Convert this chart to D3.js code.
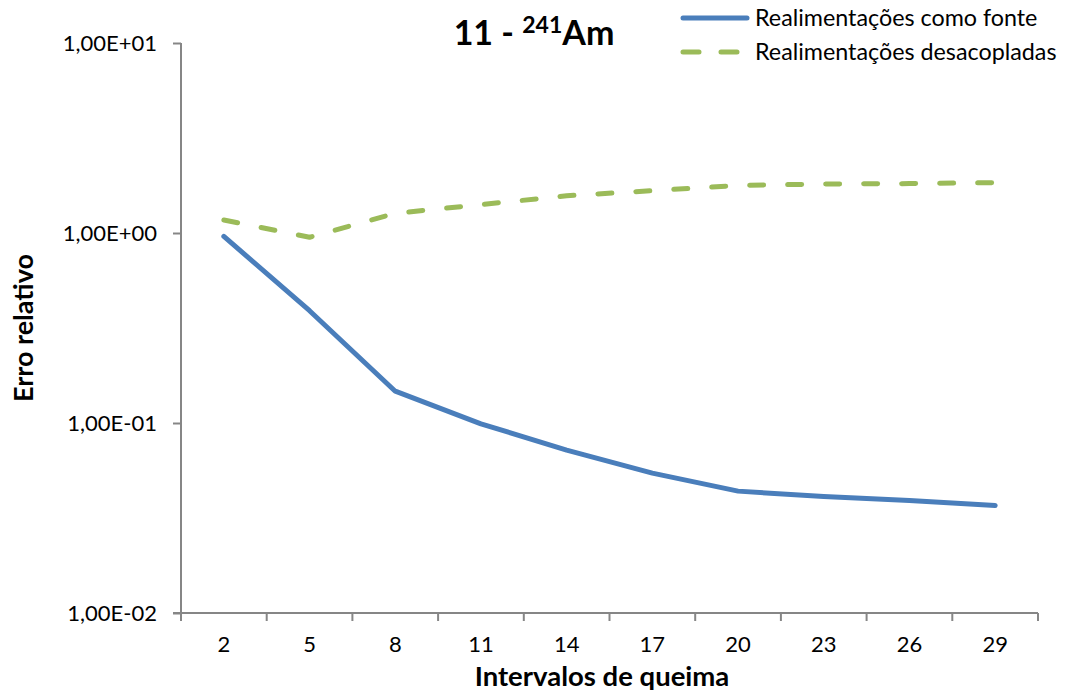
<!DOCTYPE html>
<html>
<head>
<meta charset="utf-8">
<script src="https://cdn.jsdelivr.net/npm/d3@7"></script>
<style>
  html, body { margin: 0; padding: 0; background: #fff; }
  svg { display: block; }
  text { font-family: Lato, "Open Sans", sans-serif; fill: #000; }
</style>
</head>
<body>
<div id="chart"></div>
<script>
// Burn-up intervals (x categories)
const intervals = [2, 5, 8, 11, 14, 17, 20, 23, 26, 29];
// Relative error, feedback treated as source
const erroFonte = [0.96, 0.39, 0.147, 0.099, 0.072, 0.0545, 0.0438, 0.041, 0.0391, 0.0368];
// Relative error, decoupled feedback
const erroDesacopladas = [1.17, 0.95, 1.27, 1.41, 1.57, 1.67, 1.78, 1.81, 1.82, 1.84];
// Y axis tick values (log scale)
const yTicks = [0.01, 0.1, 1, 10];

const seriesNames = ["Realimentações como fonte", "Realimentações desacopladas"];

const W = 1065, H = 695;
const plotLeft = 181, plotRight = 1038, plotTop = 43, plotBottom = 613;
const axisColor = "#868686";
const blue = "#4A7EBB", green = "#9BBB59";

const svg = d3.select("#chart").append("svg")
  .attr("width", W).attr("height", H);

const x = d3.scaleBand().domain(intervals).range([plotLeft, plotRight]).padding(0);
const y = d3.scaleLog().domain([0.01, 10]).range([plotBottom, plotTop]);

function fmtSci(v) {
  const e = Math.round(Math.log10(v));
  const s = e < 0 ? "-" : "+";
  return "1,00E" + s + String(Math.abs(e)).padStart(2, "0");
}

// Y axis
const yAxis = svg.append("g")
  .attr("transform", `translate(${plotLeft},0)`)
  .call(d3.axisLeft(y).tickValues(yTicks).tickFormat(fmtSci).tickSize(8).tickPadding(16));
yAxis.select(".domain").attr("stroke", axisColor).attr("stroke-width", 2)
  .attr("d", `M0,${plotTop}V${plotBottom}`);
yAxis.selectAll(".tick line").attr("stroke", axisColor).attr("stroke-width", 2);
yAxis.selectAll(".tick text").attr("font-size", 22).attr("font-family", "Lato").attr("fill", "#000");

// X axis: labels centred on categories, tick marks on category boundaries
const xAxis = svg.append("g")
  .attr("transform", `translate(0,${plotBottom})`)
  .call(d3.axisBottom(x).tickSize(0).tickPadding(23));
xAxis.select(".domain").attr("stroke", axisColor).attr("stroke-width", 2)
  .attr("d", `M${plotLeft - 8},0H${plotRight}`);
xAxis.selectAll(".tick text").attr("font-size", 22).attr("font-family", "Lato").attr("fill", "#000");
const bounds = intervals.map(d => x(d)).concat([x(intervals[intervals.length - 1]) + x.bandwidth()]);
xAxis.selectAll(".bound").data(bounds).enter().append("line")
  .attr("class", "bound")
  .attr("x1", d => d).attr("x2", d => d)
  .attr("y1", 0).attr("y2", 8)
  .attr("stroke", axisColor).attr("stroke-width", 2);

// Series lines
const line = d3.line()
  .x((d, i) => x(intervals[i]) + x.bandwidth() / 2)
  .y(d => y(d));

svg.append("path").datum(erroDesacopladas)
  .attr("d", line)
  .attr("fill", "none").attr("stroke", green).attr("stroke-width", 5)
  .attr("stroke-linecap", "round").attr("stroke-linejoin", "round")
  .attr("stroke-dasharray", "14,24");

svg.append("path").datum(erroFonte)
  .attr("d", line)
  .attr("fill", "none").attr("stroke", blue).attr("stroke-width", 5)
  .attr("stroke-linecap", "round").attr("stroke-linejoin", "round");

// Title
const title = svg.append("text")
  .attr("x", 534).attr("y", 45)
  .attr("text-anchor", "middle")
  .attr("font-size", 34).attr("font-weight", "bold");
title.append("tspan").text("11 - ");
title.append("tspan").attr("font-size", 23).attr("dy", -12).text("241");
title.append("tspan").attr("dy", 12).text("Am");

// Axis titles
svg.append("text")
  .attr("transform", `translate(33,328) rotate(-90)`)
  .attr("text-anchor", "middle")
  .attr("font-size", 27).attr("font-weight", "bold")
  .text("Erro relativo");

svg.append("text")
  .attr("x", 602).attr("y", 686)
  .attr("text-anchor", "middle")
  .attr("font-size", 27.5).attr("font-weight", "bold")
  .text("Intervalos de queima");

// Legend
const legend = svg.append("g");
const rows = [
  { name: seriesNames[0], color: blue, dash: null, y: 18 },
  { name: seriesNames[1], color: green, dash: "16,22", y: 52 }
];
rows.forEach(r => {
  legend.append("line")
    .attr("x1", 683).attr("x2", 747)
    .attr("y1", r.y).attr("y2", r.y)
    .attr("stroke", r.color).attr("stroke-width", 5)
    .attr("stroke-linecap", "round")
    .attr("stroke-dasharray", r.dash);
  legend.append("text")
    .attr("x", 755).attr("y", r.y)
    .attr("dy", "0.36em")
    .attr("font-size", 23.3)
    .text(r.name);
});
</script>
</body>
</html>
